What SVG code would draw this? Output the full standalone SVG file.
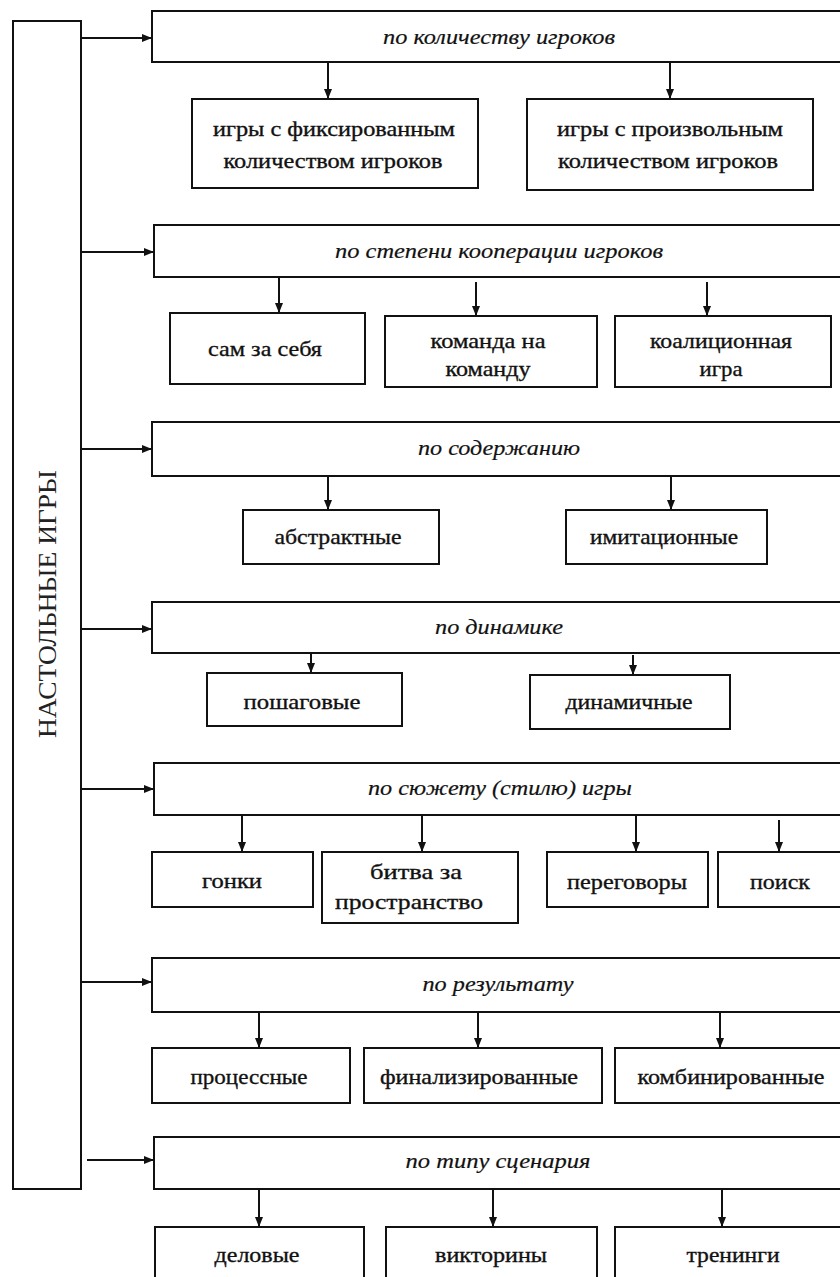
<svg xmlns="http://www.w3.org/2000/svg" width="840" height="1277" viewBox="0 0 840 1277">
<defs>
<marker id="ah" viewBox="0 0 10 10" refX="10" refY="5" markerWidth="10" markerHeight="10" markerUnits="userSpaceOnUse" orient="auto">
<path d="M0,1 L10,5 L0,9 z" fill="#111"/>
</marker>
<style>
.box{fill:#fff;stroke:#111;stroke-width:2}
.c{stroke:#111;stroke-width:2;fill:none;marker-end:url(#ah)}
.t{font-family:"Liberation Serif","Times New Roman",serif;font-size:22px;fill:#111;stroke:#111;stroke-width:0.35;text-anchor:middle}
.h{font-family:"Liberation Serif","Times New Roman",serif;font-size:22px;font-style:italic;fill:#111;stroke:#111;stroke-width:0.2;text-anchor:middle}
.m{font-family:"Liberation Serif","Times New Roman",serif;font-size:26px;fill:#222;text-anchor:middle}
</style>
</defs>
<rect width="840" height="1277" fill="#fff"/>
<g id="root">
<rect class="box" x="13" y="21" width="68" height="1168"/>
<text class="m" transform="translate(56,604) rotate(-90)" textLength="268" lengthAdjust="spacingAndGlyphs">НАСТОЛЬНЫЕ ИГРЫ</text>
</g>
<g id="connectors">
<line class="c" x1="81" y1="38" x2="152" y2="38"/>
<line class="c" x1="81" y1="252" x2="154" y2="252"/>
<line class="c" x1="81" y1="449" x2="152" y2="449"/>
<line class="c" x1="81" y1="629" x2="152" y2="629"/>
<line class="c" x1="81" y1="789" x2="154" y2="789"/>
<line class="c" x1="81" y1="982" x2="152" y2="982"/>
<line class="c" x1="87" y1="1160" x2="154" y2="1160"/>
<line class="c" x1="328" y1="62" x2="328" y2="99"/>
<line class="c" x1="670" y1="62" x2="670" y2="99"/>
<line class="c" x1="279" y1="277" x2="279" y2="313"/>
<line class="c" x1="476" y1="282" x2="476" y2="316"/>
<line class="c" x1="707" y1="282" x2="707" y2="316"/>
<line class="c" x1="328" y1="476" x2="328" y2="510"/>
<line class="c" x1="671" y1="476" x2="671" y2="510"/>
<line class="c" x1="311" y1="653" x2="311" y2="673"/>
<line class="c" x1="633" y1="655" x2="633" y2="675"/>
<line class="c" x1="242" y1="815" x2="242" y2="852"/>
<line class="c" x1="422" y1="815" x2="422" y2="852"/>
<line class="c" x1="636" y1="815" x2="636" y2="852"/>
<line class="c" x1="779" y1="820" x2="779" y2="852"/>
<line class="c" x1="259" y1="1012" x2="259" y2="1048"/>
<line class="c" x1="478" y1="1012" x2="478" y2="1048"/>
<line class="c" x1="720" y1="1012" x2="720" y2="1048"/>
<line class="c" x1="259" y1="1189" x2="259" y2="1227"/>
<line class="c" x1="493" y1="1189" x2="493" y2="1227"/>
<line class="c" x1="722" y1="1189" x2="722" y2="1227"/>
</g>
<g id="h1"><rect class="box" x="152" y="11" width="692" height="51"/><text class="h" x="499" y="44" textLength="232" lengthAdjust="spacingAndGlyphs">по количеству игроков</text></g>
<g id="c1a"><rect class="box" x="192" y="99" width="286" height="89"/><text class="t" x="334" y="136" textLength="242" lengthAdjust="spacingAndGlyphs">игры с фиксированным</text><text class="t" x="333" y="168" textLength="219" lengthAdjust="spacingAndGlyphs">количеством игроков</text></g>
<g id="c1b"><rect class="box" x="527" y="99" width="286" height="91"/><text class="t" x="670" y="136" textLength="226" lengthAdjust="spacingAndGlyphs">игры с произвольным</text><text class="t" x="668" y="168" textLength="220" lengthAdjust="spacingAndGlyphs">количеством игроков</text></g>
<g id="h2"><rect class="box" x="154" y="225" width="690" height="52"/><text class="h" x="499" y="258" textLength="328" lengthAdjust="spacingAndGlyphs">по степени кооперации игроков</text></g>
<g id="c2a"><rect class="box" x="170" y="313" width="195" height="71"/><text class="t" x="265" y="356" textLength="114" lengthAdjust="spacingAndGlyphs">сам за себя</text></g>
<g id="c2b"><rect class="box" x="385" y="316" width="212" height="71"/><text class="t" x="488" y="348" textLength="115" lengthAdjust="spacingAndGlyphs">команда на</text><text class="t" x="488" y="376" textLength="85" lengthAdjust="spacingAndGlyphs">команду</text></g>
<g id="c2c"><rect class="box" x="615" y="316" width="216" height="71"/><text class="t" x="721" y="348" textLength="142" lengthAdjust="spacingAndGlyphs">коалиционная</text><text class="t" x="721" y="376" textLength="43" lengthAdjust="spacingAndGlyphs">игра</text></g>
<g id="h3"><rect class="box" x="152" y="422" width="692" height="54"/><text class="h" x="499" y="455" textLength="162" lengthAdjust="spacingAndGlyphs">по содержанию</text></g>
<g id="c3a"><rect class="box" x="243" y="510" width="196" height="54"/><text class="t" x="338" y="544" textLength="127" lengthAdjust="spacingAndGlyphs">абстрактные</text></g>
<g id="c3b"><rect class="box" x="566" y="510" width="201" height="54"/><text class="t" x="664" y="544" textLength="148" lengthAdjust="spacingAndGlyphs">имитационные</text></g>
<g id="h4"><rect class="box" x="152" y="602" width="692" height="51"/><text class="h" x="499" y="634" textLength="128" lengthAdjust="spacingAndGlyphs">по динамике</text></g>
<g id="c4a"><rect class="box" x="207" y="673" width="195" height="53"/><text class="t" x="302" y="709" textLength="117" lengthAdjust="spacingAndGlyphs">пошаговые</text></g>
<g id="c4b"><rect class="box" x="530" y="675" width="200" height="54"/><text class="t" x="629" y="709" textLength="127" lengthAdjust="spacingAndGlyphs">динамичные</text></g>
<g id="h5"><rect class="box" x="154" y="763" width="690" height="52"/><text class="h" x="500" y="795" textLength="264" lengthAdjust="spacingAndGlyphs">по сюжету (стилю) игры</text></g>
<g id="c5a"><rect class="box" x="152" y="852" width="161" height="55"/><text class="t" x="232" y="888" textLength="60" lengthAdjust="spacingAndGlyphs">гонки</text></g>
<g id="c5b"><rect class="box" x="322" y="852" width="196" height="71"/><text class="t" x="416" y="879" textLength="92" lengthAdjust="spacingAndGlyphs">битва за</text><text class="t" x="409" y="909" textLength="148" lengthAdjust="spacingAndGlyphs">пространство</text></g>
<g id="c5c"><rect class="box" x="547" y="852" width="161" height="55"/><text class="t" x="627" y="889" textLength="120" lengthAdjust="spacingAndGlyphs">переговоры</text></g>
<g id="c5d"><rect class="box" x="718" y="852" width="126" height="55"/><text class="t" x="780" y="889" textLength="60" lengthAdjust="spacingAndGlyphs">поиск</text></g>
<g id="h6"><rect class="box" x="152" y="958" width="692" height="54"/><text class="h" x="498" y="991" textLength="151" lengthAdjust="spacingAndGlyphs">по результату</text></g>
<g id="c6a"><rect class="box" x="152" y="1048" width="198" height="55"/><text class="t" x="249" y="1084" textLength="117" lengthAdjust="spacingAndGlyphs">процессные</text></g>
<g id="c6b"><rect class="box" x="364" y="1048" width="238" height="55"/><text class="t" x="479" y="1084" textLength="198" lengthAdjust="spacingAndGlyphs">финализированные</text></g>
<g id="c6c"><rect class="box" x="615" y="1048" width="229" height="55"/><text class="t" x="731" y="1084" textLength="187" lengthAdjust="spacingAndGlyphs">комбинированные</text></g>
<g id="h7"><rect class="box" x="154" y="1137" width="690" height="52"/><text class="h" x="498" y="1168" textLength="185" lengthAdjust="spacingAndGlyphs">по типу сценария</text></g>
<g id="c7a"><rect class="box" x="155" y="1227" width="209" height="60"/><text class="t" x="257" y="1262" textLength="85" lengthAdjust="spacingAndGlyphs">деловые</text></g>
<g id="c7b"><rect class="box" x="386" y="1227" width="211" height="60"/><text class="t" x="491" y="1262" textLength="112" lengthAdjust="spacingAndGlyphs">викторины</text></g>
<g id="c7c"><rect class="box" x="615" y="1227" width="229" height="60"/><text class="t" x="733" y="1262" textLength="93" lengthAdjust="spacingAndGlyphs">тренинги</text></g>
</svg>
